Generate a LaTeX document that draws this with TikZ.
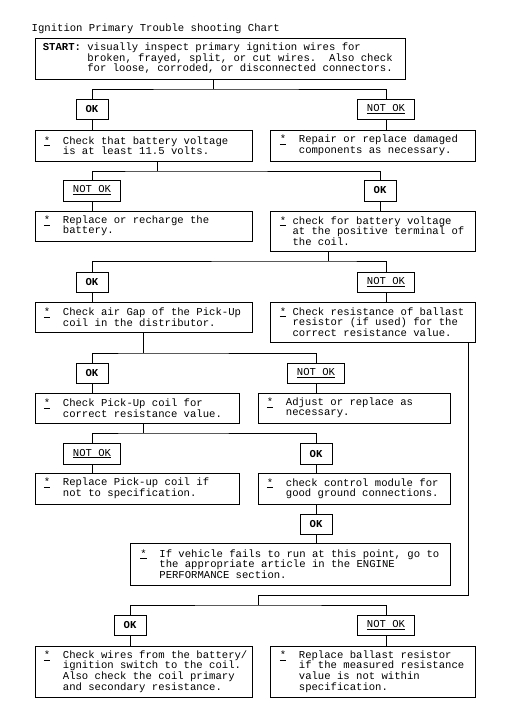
\documentclass[tikz,border=0pt]{standalone}
\usepackage{fontspec}
\newfontfamily\mono{Liberation Mono}
\newlength\chw \setlength\chw{6.36pt}
\newcommand\sta{\makebox[3\chw][l]{\underline{*}}}
\newcommand\stb{\makebox[2\chw][l]{\underline{*}}}
\newcommand\ia{\hspace*{3\chw}}
\newcommand\ib{\hspace*{2\chw}}
\newcommand\ic{\hspace*{7\chw}}
\tikzset{
  box/.style={draw=black, line width=0.75pt, rectangle, inner sep=0pt},
  txt/.style={inner sep=0pt, align=left, anchor=west,
    font=\mono\fontsize{10.6}{10.5}\selectfont\frenchspacing},
  conn/.style={draw=black, line width=0.75pt},
}
% big box: L T R B name
\newcommand\bx[5]{\node[box, minimum width={(#3-#1)*1pt}, minimum height={(#4-#2)*1pt}] (#5) at ({(#1+#3)/2},{(#2+#4)/2}) {};}
% small label box: xc T B width name text
\newcommand\lb[6]{\node[box, font=\mono\fontsize{10.6}{10.5}\selectfont, minimum width={#4*1pt}, minimum height={(#3-#2)*1pt}] (#5) at (#1,{(#2+#3)/2}) {#6};}
\begin{document}
\begin{tikzpicture}[x=1pt,y=-1pt]
\useasboundingbox[fill=white] (0,0) rectangle (506,721);

\node[txt, anchor=base west] (title) at (31.5,31) {Ignition Primary Trouble shooting Chart};

% ---------- boxes ----------
\bx{35}{38}{405}{79}{s}
\node[txt] (ts) at ([xshift=8pt]s.west) {\textbf{START:} visually inspect primary ignition wires for\\
\ic broken, frayed, split, or cut wires.~ Also check\\
\ic for loose, corroded, or disconnected connectors.};

\lb{92}{99}{119}{32}{ok1}{\textbf{OK}}
\lb{386}{99}{119}{57}{nok1}{\underline{NOT OK}}

\bx{35}{130}{252}{161}{b1}
\node[txt] (t1) at ([xshift=9pt]b1.west) {\sta Check that battery voltage\\ \ia is at least 11.5 volts.};
\bx{270}{130}{475}{161}{b2}
\node[txt] (t2) at ([xshift=10pt]b2.west) {\sta Repair or replace damaged\\ \ia components as necessary.};

\lb{92}{180}{201}{57}{nok2}{\underline{NOT OK}}
\lb{380}{180}{201}{32}{ok2}{\textbf{OK}}

\bx{35}{211}{252}{241}{b3}
\node[txt] (t3) at ([xshift=9pt]b3.west) {\sta Replace or recharge the\\ \ia battery.};
\bx{270}{211}{475}{251}{b4}
\node[txt] (t4) at ([xshift=10pt]b4.west) {\stb check for battery voltage\\ \ib at the positive terminal of\\ \ib the coil.};

\lb{92}{272}{292}{32}{ok3}{\textbf{OK}}
\lb{386}{272}{292}{57}{nok3}{\underline{NOT OK}}

\bx{35}{302}{252}{332}{b5}
\node[txt] (t5) at ([xshift=9pt]b5.west) {\sta Check air Gap of the Pick-Up\\ \ia coil in the distributor.};
\bx{270}{302}{475}{342}{b6}
\node[txt] (t6) at ([xshift=10pt]b6.west) {\stb Check resistance of ballast\\ \ib resistor (if used) for the\\ \ib correct resistance value.};

\lb{92}{363}{383}{32}{ok4}{\textbf{OK}}
\lb{316}{363}{383}{57}{nok4}{\underline{NOT OK}}

\bx{35}{393}{239}{423}{b7}
\node[txt] (t7) at ([xshift=9pt]b7.west) {\sta Check Pick-Up coil for\\ \ia correct resistance value.};
\bx{258}{393}{450}{423}{b8}
\node[txt] (t8) at ([xshift=9pt]b8.west) {\sta Adjust or replace as\\ \ia necessary.};

\lb{92}{443}{464}{57}{nok5}{\underline{NOT OK}}
\lb{316}{443}{464}{32}{ok5}{\textbf{OK}}

\bx{35}{473}{239}{504}{b9}
\node[txt] (t9) at ([xshift=9pt]b9.west) {\sta Replace Pick-up coil if\\ \ia not to specification.};
\bx{258}{473}{450}{504}{b10}
\node[txt] (t10) at ([xshift=9pt]b10.west) {\sta check control module for\\ \ia good ground connections.};

\lb{316}{514}{534}{32}{ok6}{\textbf{OK}}

\bx{130}{543}{450}{585}{b11}
\node[txt] (t11) at ([xshift=10.5pt]b11.west) {\sta If vehicle fails to run at this point, go to\\ \ia the appropriate article in the ENGINE\\ \ia PERFORMANCE section.};

\lb{130}{615}{635}{32}{ok7}{\textbf{OK}}
\lb{386}{615}{635}{57}{nok7}{\underline{NOT OK}}

\bx{35}{646}{252}{697}{b12}
\node[txt] (t12) at ([xshift=9pt]b12.west) {\sta Check wires from the battery/\\ \ia ignition switch to the coil.\\ \ia Also check the coil primary\\ \ia and secondary resistance.};
\bx{270}{646}{475}{697}{b13}
\node[txt] (t13) at ([xshift=10pt]b13.west) {\sta Replace ballast resistor\\ \ia if the measured resistance\\ \ia value is not within\\ \ia specification.};

% ---------- connectors ----------
\coordinate (j1) at (213,89);
\draw[conn] (j1 |- s.south) -- (j1);
\draw[conn] (ok1.north) |- (j1) -| (nok1.north);
\draw[conn] (ok1.south) -- (ok1.south |- b1.north);
\draw[conn] (nok1.south) -- (nok1.south |- b2.north);

\coordinate (j2) at (157,171);
\draw[conn] (j2 |- b1.south) -- (j2);
\draw[conn] (nok2.north) |- (j2) -| (ok2.north);
\draw[conn] (nok2.south) -- (nok2.south |- b3.north);
\draw[conn] (ok2.south) -- (ok2.south |- b4.north);

\coordinate (j3) at (328,261);
\draw[conn] (j3 |- b4.south) -- (j3);
\draw[conn] (ok3.north) |- (j3) -| (nok3.north);
\draw[conn] (ok3.south) -- (ok3.south |- b5.north);
\draw[conn] (nok3.south) -- (nok3.south |- b6.north);

\coordinate (j4) at (143,353);
\draw[conn] (j4 |- b5.south) -- (j4);
\draw[conn] (ok4.north) |- (j4) -| (nok4.north);
\draw[conn] (ok4.south) -- (ok4.south |- b7.north);
\draw[conn] (nok4.south) -- (nok4.south |- b8.north);

\coordinate (j5) at (143,433);
\draw[conn] (j5 |- b7.south) -- (j5);
\draw[conn] (nok5.north) |- (j5) -| (ok5.north);
\draw[conn] (nok5.south) -- (nok5.south |- b9.north);
\draw[conn] (ok5.south) -- (ok5.south |- b10.north);

\draw[conn] (ok6.north |- b10.south) -- (ok6.north);
\draw[conn] (ok6.south) -- (ok6.south |- b11.north);

\coordinate (r1) at (468,595);
\coordinate (j6) at (258,605);
\draw[conn] (r1 |- b6.south) -- (r1) -| (j6);
\draw[conn] (ok7.north) |- (j6) -| (nok7.north);
\draw[conn] (ok7.south) -- (ok7.south |- b12.north);
\draw[conn] (nok7.south) -- (nok7.south |- b13.north);
\end{tikzpicture}
\end{document}
